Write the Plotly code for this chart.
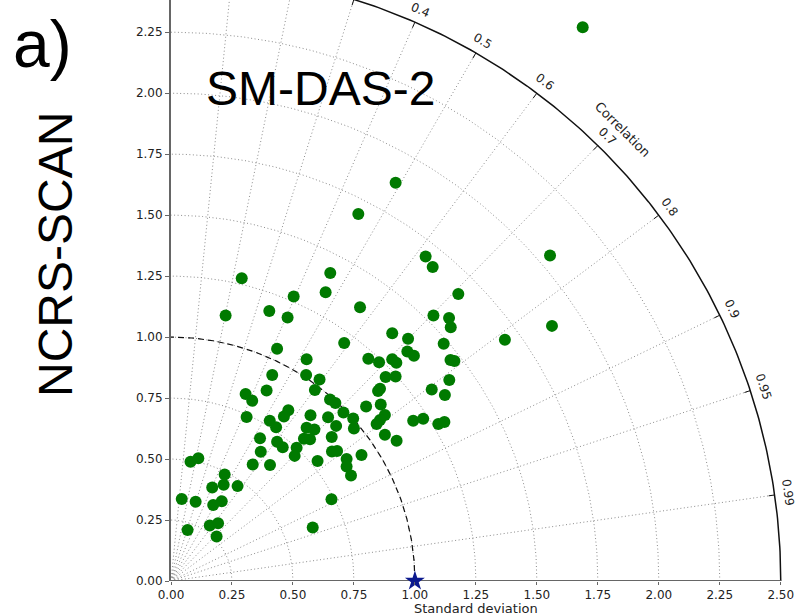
import numpy as np
import plotly.graph_objects as go

# ---- data (Taylor diagram, Cartesian projection: std*corr, std*sin(acos(corr))) ----
model_x = [1.688, 0.921, 0.768, 1.554, 1.044, 1.073, 0.653, 0.290, 0.634, 0.503,
           1.178, 0.403, 0.224, 0.478, 0.775, 1.076, 1.140, 1.147, 1.562, 0.907,
           0.972, 0.710, 1.118, 1.369, 0.435, 0.969, 0.996, 0.556, 0.809, 0.853,
           0.907, 0.924, 1.146, 1.162, 0.880, 0.921, 1.141, 0.415, 0.554, 0.609,
           0.857, 0.849, 1.069, 1.123, 0.590, 0.392, 0.306, 0.333, 0.652, 0.674,
           0.800, 0.860, 0.707, 0.747, 0.877, 0.857, 0.843, 0.677, 0.750, 0.993,
           1.034, 1.096, 1.121, 0.659, 0.877, 0.925, 0.660, 0.681, 0.720, 0.720,
           0.738, 0.781, 0.481, 0.463, 0.310, 0.572, 0.644, 0.405, 0.431, 0.556,
           0.588, 0.365, 0.545, 0.570, 0.435, 0.458, 0.368, 0.515, 0.507, 0.601,
           0.335, 0.406, 0.080, 0.112, 0.220, 0.216, 0.169, 0.273, 0.044, 0.101,
           0.173, 0.208, 0.658, 0.159, 0.193, 0.068, 0.187, 0.581]
model_y = [2.270, 1.633, 1.505, 1.335, 1.330, 1.287, 1.263, 1.241, 1.184, 1.166,
           1.177, 1.107, 1.089, 1.080, 1.122, 1.089, 1.078, 1.040, 1.046, 1.016,
           0.993, 0.976, 0.973, 0.989, 0.952, 0.941, 0.924, 0.909, 0.911, 0.897,
           0.909, 0.895, 0.906, 0.902, 0.836, 0.838, 0.824, 0.845, 0.845, 0.826,
           0.788, 0.779, 0.785, 0.763, 0.783, 0.781, 0.767, 0.739, 0.744, 0.730,
           0.715, 0.724, 0.691, 0.666, 0.681, 0.660, 0.644, 0.636, 0.625, 0.657,
           0.665, 0.644, 0.652, 0.590, 0.600, 0.575, 0.531, 0.533, 0.500, 0.469,
           0.433, 0.517, 0.700, 0.674, 0.672, 0.680, 0.671, 0.657, 0.630, 0.628,
           0.621, 0.585, 0.583, 0.581, 0.571, 0.548, 0.530, 0.546, 0.513, 0.492,
           0.478, 0.476, 0.489, 0.503, 0.437, 0.395, 0.383, 0.389, 0.336, 0.325,
           0.312, 0.327, 0.335, 0.228, 0.237, 0.209, 0.182, 0.219]

ref_std = 1.0
std_max = 2.5
std_grid = [0.25, 0.5, 0.75, 1.0, 1.25, 1.5, 1.75, 2.0, 2.25]
std_ticks = [0.0, 0.25, 0.5, 0.75, 1.0, 1.25, 1.5, 1.75, 2.0, 2.25, 2.5]
y_ticks = [0.0, 0.25, 0.5, 0.75, 1.0, 1.25, 1.5, 1.75, 2.0, 2.25]
corr_ticks = [0.1, 0.2, 0.3, 0.4, 0.5, 0.6, 0.7, 0.8, 0.9, 0.95, 0.99]
corr_labels = ["0.1", "0.2", "0.3", "0.4", "0.5", "0.6", "0.7", "0.8", "0.9", "0.95", "0.99"]

# ---- layout geometry ----
W, H = 799, 616
ML, MB = 171, 35
px_per_unit = 243.9
x_max = (W - ML) / px_per_unit
y_max = (H - MB) / px_per_unit

GRID = dict(color="#8c8c8c", width=1, dash="1px,2.5px")
FONT = "DejaVu Sans"

fig = go.Figure()

# std arcs (dotted grid)
th = np.linspace(0, np.pi / 2, 200)
ax_, ay_ = [], []
for r in std_grid:
    ax_ += list(r * np.cos(th)) + [None]
    ay_ += list(r * np.sin(th)) + [None]
fig.add_trace(go.Scatter(x=ax_, y=ay_, mode="lines", line=GRID, hoverinfo="skip", showlegend=False))

# correlation radial lines
rx, ry = [], []
for c in corr_ticks:
    s = np.sqrt(1 - c * c)
    rx += [0, std_max * c, None]
    ry += [0, std_max * s, None]
fig.add_trace(go.Scatter(x=rx, y=ry, mode="lines", line=GRID, hoverinfo="skip", showlegend=False))

# reference std dashed arc
fig.add_trace(go.Scatter(x=ref_std * np.cos(th), y=ref_std * np.sin(th), mode="lines",
                         line=dict(color="#111", width=1.2, dash="6px,4px"),
                         hoverinfo="skip", showlegend=False))

# outer arc
fig.add_trace(go.Scatter(x=std_max * np.cos(th), y=std_max * np.sin(th), mode="lines",
                         line=dict(color="#111", width=1.5), hoverinfo="skip", showlegend=False))

# ticks on the outer arc
tx, ty = [], []
for c in corr_ticks:
    s = np.sqrt(1 - c * c)
    tx += [2.475 * c, std_max * c, None]
    ty += [2.475 * s, std_max * s, None]
fig.add_trace(go.Scatter(x=tx, y=ty, mode="lines", line=dict(color="#111", width=1),
                         hoverinfo="skip", showlegend=False))

# bottom spine up to std_max
fig.add_trace(go.Scatter(x=[0, std_max], y=[0, 0], mode="lines", line=dict(color="#666", width=2),
                         hoverinfo="skip", showlegend=False, cliponaxis=False))

# models
fig.add_trace(go.Scatter(x=model_x, y=model_y, mode="markers",
                         marker=dict(size=12, color="#007a00", line=dict(width=0)),
                         showlegend=False))

# reference star
fig.add_trace(go.Scatter(x=[ref_std], y=[0], mode="markers",
                         marker=dict(symbol="star", size=15, color="#0c1a8e"),
                         cliponaxis=False, showlegend=False))

ann = []
for c, lab in zip(corr_ticks, corr_labels):
    t = np.arccos(c)
    r = 2.555
    xx, yy = r * np.cos(t), r * np.sin(t)
    if yy > y_max - 0.02:
        continue
    ann.append(dict(x=xx, y=yy, xref="x", yref="y", text=lab, showarrow=False,
                    xanchor="center", yanchor="middle",
                    textangle=90 - np.degrees(t), font=dict(family=FONT, size=12, color="#222")))
t_lab = np.radians(45)
ann.append(dict(x=2.62 * np.cos(t_lab), y=2.62 * np.sin(t_lab), xref="x", yref="y",
                text="Correlation", showarrow=False, textangle=45,
                xanchor="center", yanchor="middle",
                font=dict(family=FONT, size=13, color="#222")))
ann.append(dict(x=0.611, y=2.02, xref="x", yref="y", text="SM-DAS-2", showarrow=False,
                xanchor="center", yanchor="middle",
                font=dict(family="Liberation Sans", size=48, color="#000")))
plot_w = W - ML
plot_h = H - MB
ann.append(dict(x=(1.25 * px_per_unit) / plot_w, y=-27 / plot_h, xref="paper", yref="paper",
                text="Standard deviation", showarrow=False,
                xanchor="center", yanchor="middle",
                font=dict(family=FONT, size=13, color="#222")))
ann.append(dict(x=(55 - ML) / plot_w, y=(H - MB - 255) / plot_h, xref="paper", yref="paper",
                text="NCRS-SCAN", showarrow=False, textangle=-90,
                xanchor="center", yanchor="middle",
                font=dict(family="Liberation Sans", size=48, color="#000")))
ann.append(dict(x=(42 - ML) / plot_w, y=(H - MB - 44) / plot_h, xref="paper", yref="paper",
                text="a)", showarrow=False,
                xanchor="center", yanchor="middle",
                font=dict(family="Liberation Sans", size=66, color="#000")))

fig.update_layout(
    width=W, height=H,
    margin=dict(l=ML, r=0, t=0, b=MB, pad=0),
    plot_bgcolor="white", paper_bgcolor="white",
    annotations=ann,
    xaxis=dict(range=[0, x_max], showgrid=False, zeroline=False, showline=False,
               tickvals=std_ticks, ticktext=[f"{v:.2f}" for v in std_ticks],
               ticks="outside", ticklen=3, tickcolor="#666",
               tickfont=dict(family=FONT, size=12, color="#222")),
    yaxis=dict(range=[0, y_max], showgrid=False, zeroline=False, showline=True,
               linecolor="#666", linewidth=2,
               tickvals=y_ticks, ticktext=[f"{v:.2f}" for v in y_ticks],
               ticks="outside", ticklen=4, tickcolor="#666",
               tickfont=dict(family=FONT, size=12, color="#222")),
)

fig.write_html("out.html", config={"displayModeBar": False},
               post_script="document.body.style.margin='0px';document.body.style.overflow='hidden';")
